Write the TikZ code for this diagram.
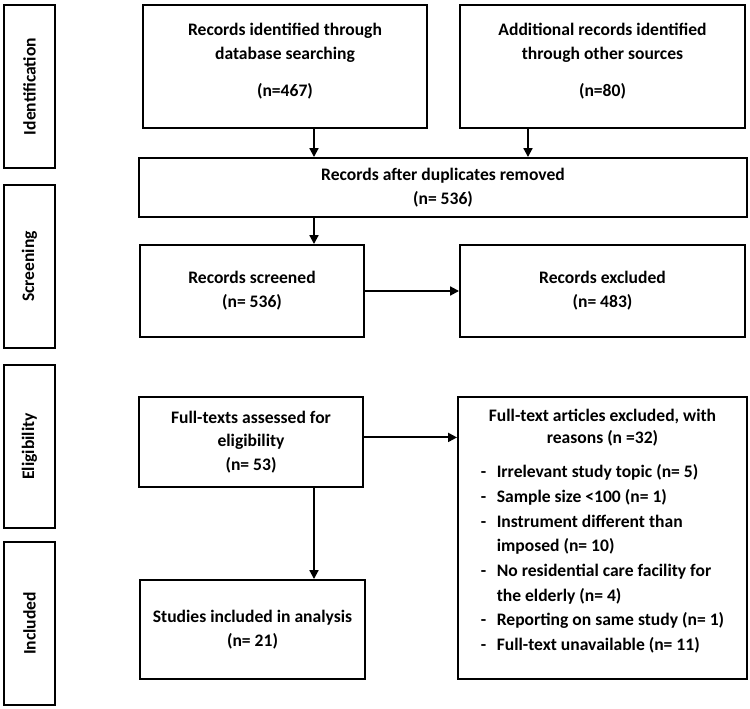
\documentclass[tikz,border=0pt]{standalone}
\usepackage{fontspec}
\setmainfont{Carlito}
\usepackage{tikz}
\usetikzlibrary{arrows.meta, positioning, calc}

\tikzset{
  stagebox/.style={draw, line width=1.1pt, minimum width=1.02cm,
    minimum height=3.26cm, inner sep=0pt},
  stagetext/.style={rotate=90, font=\bfseries\fontsize{10}{12}\selectfont},
  flowbox/.style={draw, line width=1.1pt, align=center, inner sep=2pt,
    font=\bfseries\fontsize{10}{13.5}\selectfont},
  flowarrow/.style={->, line width=1.1pt},
}

\begin{document}
\begin{tikzpicture}[>={Triangle[length=5pt, width=5pt]}]
  \useasboundingbox (0,0) rectangle (15,-14.18);

  %% Stage labels on the left
  \node[stagebox] (ident) at (0.59,-1.73) {};
  \node[stagetext] at (ident) {Identification};
  \node[stagebox] (screen) at (0.59,-5.33) {};
  \node[stagetext] at (screen) {Screening};
  \node[stagebox] (elig) at (0.59,-8.93) {};
  \node[stagetext] at (elig) {Eligibility};
  \node[stagebox] (incl) at (0.59,-12.47) {};
  \node[stagetext] at (incl) {Included};

  %% Identification
  \node[flowbox, minimum width=5.68cm, minimum height=2.46cm] (dbsearch)
    at (5.7,-1.33) {Records identified through\\database searching\\[0.8em](n=467)\\[-6pt]};
  \node[flowbox, minimum width=5.7cm, minimum height=2.46cm] (other)
    at (12.05,-1.33) {Additional records identified\\through other sources\\[0.8em](n=80)\\[-6pt]};

  %% Screening
  \node[flowbox, minimum width=12.16cm, minimum height=1.18cm] (dupl)
    at (8.86,-3.75) {Records after duplicates removed\\(n= 536)};
  \node[flowbox, minimum width=4.48cm, minimum height=1.84cm] (screened)
    at (5.04,-5.82) {Records screened\\(n= 536)};
  \node[flowbox, minimum width=5.7cm, minimum height=1.84cm] (excluded)
    at (12.05,-5.82) {Records excluded\\(n= 483)};

  %% Eligibility
  \node[flowbox, minimum width=4.48cm, minimum height=1.8cm] (assessed)
    at (5.02,-8.84) {Full-texts assessed for\\eligibility\\(n= 53)};
  \node[flowbox, minimum width=5.78cm, minimum height=5.64cm] (ftexcl)
    at (12.05,-10.76) {Full-text articles excluded, with\\[-1pt]reasons (n =32)\\[7pt]
    {\renewcommand{\arraystretch}{1.04}%
    \begin{tabular}{@{}l@{\hspace{6pt}}l@{}}
      - & Irrelevant study topic (n= 5)\\
      - & Sample size <100 (n= 1)\\
      - & Instrument different than\\
        & imposed (n= 10)\\
      - & No residential care facility for\\
        & the elderly (n= 4)\\
      - & Reporting on same study (n= 1)\\
      - & Full-text unavailable (n= 11)\\
    \end{tabular}}\\[4pt]};

  %% Included
  \node[flowbox, minimum width=4.5cm, minimum height=1.98cm] (included)
    at (5.05,-12.59) {Studies included in analysis\\(n= 21)};

  %% arrows
  \coordinate (colL) at (6.28,0);
  \coordinate (colR) at (10.56,0);
  \coordinate (elig out) at ([yshift=2.6pt]assessed.east);
  \draw[flowarrow] (dbsearch.south -| colL) -- (dupl.north -| colL);
  \draw[flowarrow] (other.south -| colR) -- (dupl.north -| colR);
  \draw[flowarrow] (dupl.south -| colL) -- (screened.north -| colL);
  \draw[flowarrow] (screened.east) -- (excluded.west |- screened.east);
  \draw[flowarrow] (elig out) -- (ftexcl.west |- elig out);
  \draw[flowarrow] (assessed.south -| colL) -- (included.north -| colL);
\end{tikzpicture}
\end{document}
